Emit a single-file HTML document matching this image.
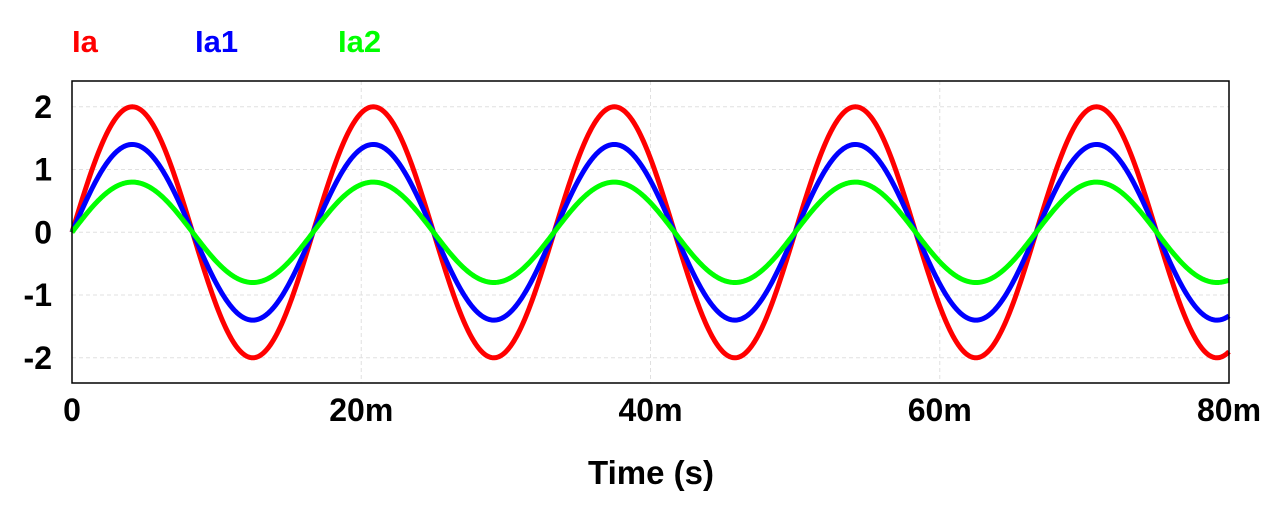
<!DOCTYPE html>
<html><head><meta charset="utf-8"><style>
body{margin:0;background:#fff;}
svg{display:block;font-family:"Liberation Sans",Arial,sans-serif;font-weight:bold;}
</style></head><body>
<svg id="chart" width="1266" height="506">
<g id="grid"></g>
<g id="series"></g>
<rect x="72" y="81" width="1157" height="302" fill="none" stroke="#000" stroke-width="1.5"/>
<g id="yticks"></g>
<g id="xticks"></g>
<text x="651" y="484" font-size="33" text-anchor="middle" fill="#000">Time (s)</text>
<g id="legend"></g>
</svg>
<script>
const seriesNames = ["Ia", "Ia1", "Ia2"];
const seriesColors = ["#ff0000", "#0000ff", "#00ff00"];
const amplitudes = [2.0, 1.4, 0.8];
const frequencyHz = [60];
const yTickValues = [2, 1, 0, -1, -2];
const yTickLabels = ["2", "1", "0", "-1", "-2"];
const xTickValues = [0, 0.02, 0.04, 0.06, 0.08];
const xTickLabels = ["0", "20m", "40m", "60m", "80m"];
const xDomain = [0, 0.08];
const legendX = [72, 195, 338];

const NS = "http://www.w3.org/2000/svg";
const L = 72, R = 1229, Y0 = 232.3, PPU = 62.75;
const xs = t => L + (t - xDomain[0]) / (xDomain[1] - xDomain[0]) * (R - L);
const ys = v => Y0 - v * PPU;
function mk(tag, attrs, parent) { const e = document.createElementNS(NS, tag); for (const k in attrs) e.setAttribute(k, attrs[k]); parent.appendChild(e); return e; }

const grid = document.getElementById("grid");
yTickValues.forEach(v => {
  const g = mk("line", {x1: L, x2: R, y1: ys(v), y2: ys(v), stroke: "#e0e0e0", "stroke-dasharray": "4,3", "stroke-width": 1}, grid);
  
  
});
xTickValues.forEach(v => {
  const g = mk("line", {x1: xs(v), x2: xs(v), y1: 81, y2: 383, stroke: "#e0e0e0", "stroke-dasharray": "4,3", "stroke-width": 1}, grid);
  
  
});

const yt = document.getElementById("yticks");
yTickValues.forEach((v, i) => {
  const t = mk("text", {x: 52, y: ys(v) + 11, "font-size": 32, "text-anchor": "end", fill: "#000"}, yt);
  t.textContent = yTickLabels[i];
  
  
});
const xt = document.getElementById("xticks");
xTickValues.forEach((v, i) => {
  const t = mk("text", {x: xs(v), y: 421, "font-size": 32, "text-anchor": "middle", fill: "#000"}, xt);
  t.textContent = xTickLabels[i];
  
  
});

const sg = document.getElementById("series");
amplitudes.forEach((a, i) => {
  let d = "";
  const N = 800;
  for (let k = 0; k <= N; k++) {
    const t = xDomain[0] + (xDomain[1] - xDomain[0]) * k / N;
    const v = a * Math.sin(2 * Math.PI * frequencyHz[0] * t);
    d += (k ? "L" : "M") + xs(t).toFixed(2) + "," + ys(v).toFixed(2);
  }
  const p = mk("path", {d: d, fill: "none", stroke: seriesColors[i], "stroke-width": 5, "stroke-linejoin": "round"}, sg);
  
  
});

const lg = document.getElementById("legend");
seriesNames.forEach((n, i) => {
  const t = mk("text", {x: legendX[i], y: 52, "font-size": 31, fill: seriesColors[i]}, lg);
  t.textContent = n;
  
  
});
</script>
</body></html>
